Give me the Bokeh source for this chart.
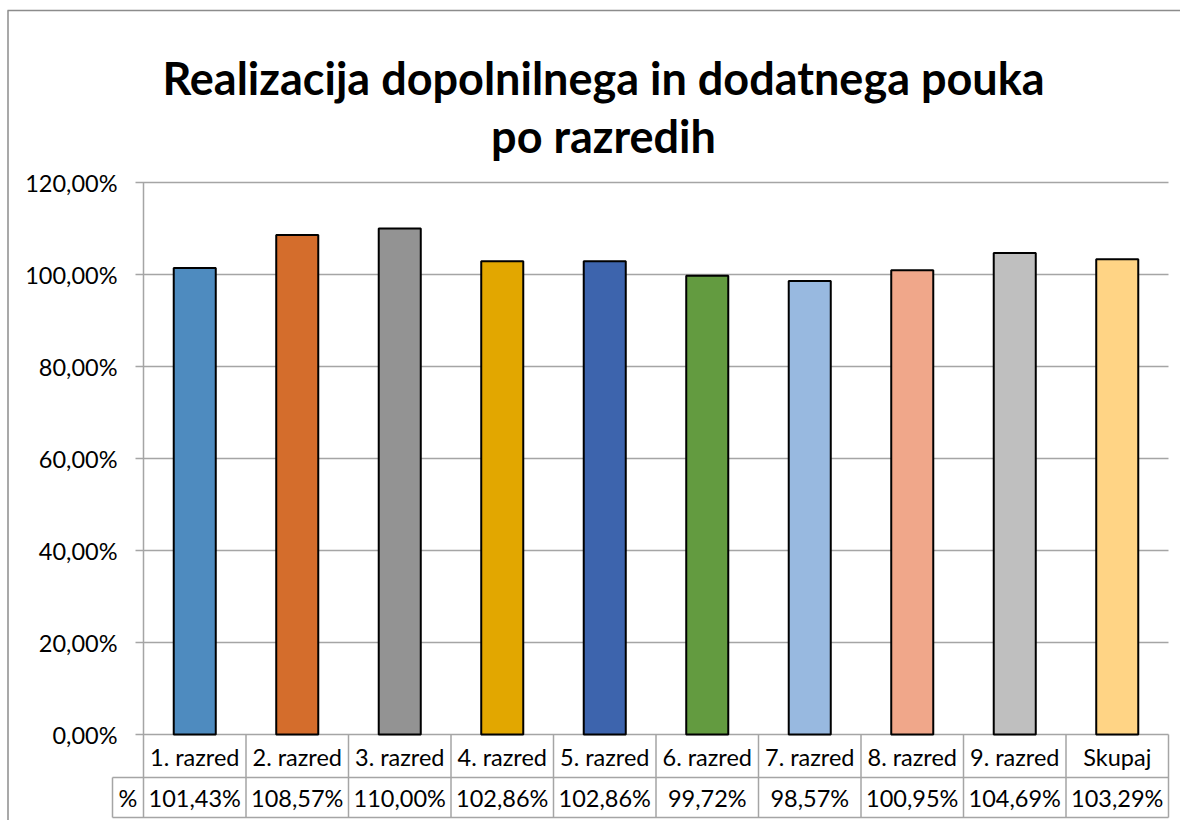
from bokeh.plotting import figure
from bokeh.models import Range1d, ColumnDataSource
from bokeh.core.properties import value
from bokeh.embed import file_html
from bokeh.resources import INLINE

# ---------------- data ----------------
categories = ["1. razred", "2. razred", "3. razred", "4. razred", "5. razred",
              "6. razred", "7. razred", "8. razred", "9. razred", "Skupaj"]
values = [101.43, 108.57, 110.00, 102.86, 102.86, 99.72, 98.57, 100.95, 104.69, 103.29]
value_labels = ["101,43%", "108,57%", "110,00%", "102,86%", "102,86%",
                "99,72%", "98,57%", "100,95%", "104,69%", "103,29%"]
colors = ["#4E8BBF", "#D46D2C", "#939393", "#E2A700", "#3D64AD",
          "#639B40", "#98B9E0", "#F0A78A", "#BFBFBF", "#FFD485"]
y_ticks = [0, 20, 40, 60, 80, 100, 120]
y_tick_labels = ["0,00%", "20,00%", "40,00%", "60,00%", "80,00%", "100,00%", "120,00%"]
title_lines = ["Realizacija dopolnilnega in dodatnega pouka", "po razredih"]
row_header = "%"

# ---------------- layout (canvas pixels) ----------------
W, H = 1180, 820
PL, PR = 143, 1168          # plot area left/right
PT, PB = 182, 734           # plot area top (120%) / bottom (0%)
ncat = len(categories)
ymax = 120.0
ppx = (PR - PL) / ncat
ppy = (PB - PT) / ymax

x_start = -PL / ppx
x_end = ncat + (W - PR) / ppx
y_start = -(H - PB) / ppy
y_end = PB / ppy


def xd(px):
    return x_start + px / ppx


def yd(py):
    return (PB - py) / ppy


p = figure(width=W, height=H, output_backend="svg", toolbar_location=None,
           x_range=Range1d(x_start, x_end), y_range=Range1d(y_start, y_end),
           x_axis_location=None, y_axis_location=None, min_border=0,
           background_fill_color="white", border_fill_color="white")
p.grid.visible = False
p.outline_line_color = None

FONT = "Lato"
FS = "23.5px"
grid_col = "#A5A5A5"
tbl_col = "#A5A5A5"

# outer chart border (top + left visible)
p.segment(x0=[xd(7), xd(7.5)], y0=[yd(10), yd(10)], x1=[xd(W), xd(7.5)], y1=[yd(10), yd(H)],
          line_color="#8C8C8C", line_width=1.5)

# gridlines + tick marks
p.segment(x0=[xd(PL - 8)] * len(y_ticks), y0=y_ticks, x1=[ncat] * len(y_ticks), y1=y_ticks,
          line_color=grid_col, line_width=1.5)

# tick labels
p.text(x=[xd(117)] * len(y_ticks), y=y_ticks, text=y_tick_labels,
       text_font=value(FONT), text_font_size=value(FS), text_color="#000000",
       text_align="right", text_baseline="middle")

# bars
src = ColumnDataSource(dict(x=[i + 0.5 for i in range(ncat)], top=values, color=colors))
p.vbar(x="x", top="top", bottom=0, width=0.41, source=src,
       fill_color="color", line_color="black", line_width=2)

# table
row1 = 777
row2 = 817
hdr_left = 112
p.segment(x0=[0], y0=[ymax], x1=[0], y1=[yd(row2)], line_color=tbl_col, line_width=1.5)
p.segment(x0=list(range(1, ncat + 1)), y0=[0] * ncat, x1=list(range(1, ncat + 1)), y1=[yd(row2)] * ncat,
          line_color=tbl_col, line_width=1.5)
p.segment(x0=[xd(hdr_left), xd(hdr_left), xd(hdr_left)], y0=[yd(row1), yd(row2), yd(row1)],
          x1=[ncat, ncat, xd(hdr_left)], y1=[yd(row1), yd(row2), yd(row2)],
          line_color=tbl_col, line_width=1.5)

p.text(x=[i + 0.5 for i in range(ncat)], y=[yd(756)] * ncat, text=categories,
       text_font=value(FONT), text_font_size=value(FS), text_color="#000000",
       text_align="center", text_baseline="middle")
p.text(x=[i + 0.5 for i in range(ncat)], y=[yd(797)] * ncat, text=value_labels,
       text_font=value(FONT), text_font_size=value(FS), text_color="#000000",
       text_align="center", text_baseline="middle")
p.text(x=[xd((hdr_left + PL) / 2)], y=[yd(797)], text=[row_header],
       text_font=value(FONT), text_font_size=value(FS), text_color="#000000",
       text_align="center", text_baseline="middle")

# title
p.text(x=[xd(603), xd(603)], y=[yd(77), yd(135)], text=title_lines,
       text_font=value(FONT), text_font_size=value("45px"), text_font_style="bold",
       text_color="#000000", text_align="center", text_baseline="alphabetic")

open("out.html", "w").write(file_html(p, INLINE))
